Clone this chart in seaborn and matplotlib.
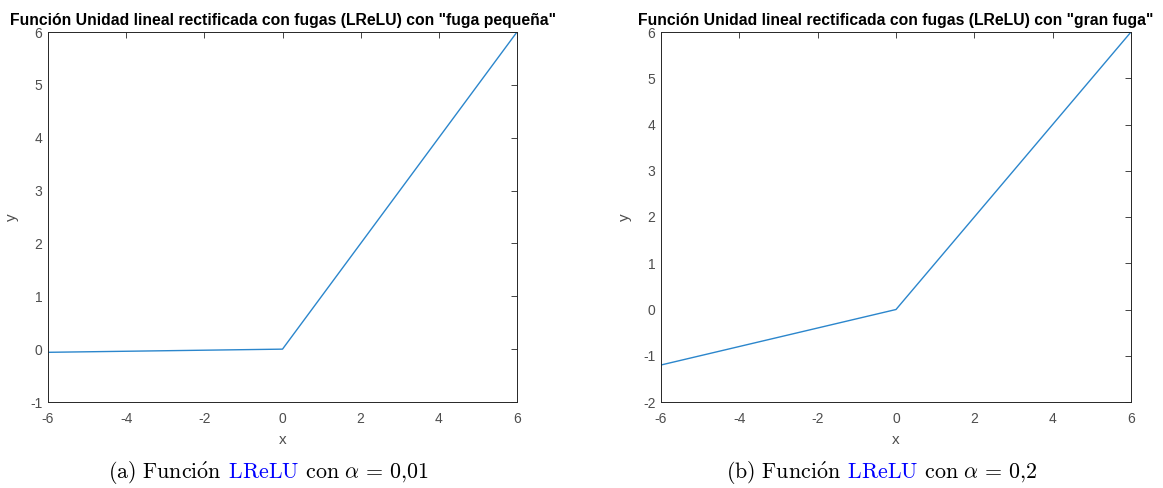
import numpy as np
import pandas as pd
import seaborn as sns
import matplotlib
matplotlib.use("Agg")
import matplotlib.pyplot as plt

# ---- data ----
x_vals = [-6, 0, 6]
y_small_leak = [-0.06, 0, 6]
y_big_leak = [-1.2, 0, 6]

titles = ['Función Unidad lineal rectificada con fugas (LReLU) con "fuga pequeña"',
          'Función Unidad lineal rectificada con fugas (LReLU) con "gran fuga"']
caption_pre = [r"$\mathrm{(a)\ Funci\'{o}n}$", r"$\mathrm{(b)\ Funci\'{o}n}$"]
caption_mid = r"$\mathrm{\ LReLU}$"
caption_post = [r"$\mathrm{\ con\ }\alpha\,=\,0{,}01$", r"$\mathrm{\ con\ }\alpha\,=\,0{,}2$"]
xticks = [-6, -4, -2, 0, 2, 4, 6]
yticks_a = [-1, 0, 1, 2, 3, 4, 5, 6]
yticks_b = [-2, -1, 0, 1, 2, 3, 4, 5, 6]

sns.set_style("white")
plt.rcParams['font.family'] = ['Liberation Sans', 'DejaVu Sans']
plt.rcParams['mathtext.fontset'] = 'cm'

fig = plt.figure(figsize=(11.63, 4.88), dpi=100)
W, H = 1163, 488
ax_a = fig.add_axes([48 / W, 1 - 402 / H, 469 / W, 370 / H])
ax_b = fig.add_axes([661 / W, 1 - 402 / H, 470 / W, 370 / H])

line_color = "#2b86cc"
axis_color = "#262626"
label_color = "#4d4d4d"

for ax, yv, yt, title in [(ax_a, y_small_leak, yticks_a, titles[0]),
                          (ax_b, y_big_leak, yticks_b, titles[1])]:
    df = pd.DataFrame({"x": x_vals, "y": yv})
    sns.lineplot(data=df, x="x", y="y", ax=ax, color=line_color, linewidth=1.0)
    ax.set_xlim(-6, 6)
    ax.set_ylim(yt[0], yt[-1])
    ax.set_xticks(xticks)
    ax.set_yticks(yt)
    ax.set_xticklabels([str(v) for v in xticks])
    ax.set_yticklabels([str(v) for v in yt])
    ax.tick_params(direction="in", length=4, width=0.6, top=True, right=True,
                   labelsize=10, color=axis_color, labelcolor=label_color)
    ax.tick_params(axis="x", pad=7)
    ax.tick_params(axis="y", pad=4)
    for s in ax.spines.values():
        s.set_visible(True)
        s.set_color(axis_color)
        s.set_linewidth(0.7)
    ax.set_xlabel("x", fontsize=11, color=label_color, labelpad=5)
    ax.set_ylabel("y", fontsize=11, color=label_color, labelpad=8)
    ax.set_title(title, fontsize=11.3, fontweight="bold", color="black", pad=5)

# captions: three pieces placed one after another
fig.canvas.draw()
renderer = fig.canvas.get_renderer()
cap_fs = 15.8
for i, xc in enumerate([269, 882]):
    pieces = [(caption_pre[i], "black"), (caption_mid, "#0000FF"), (caption_post[i], "black")]
    texts = [fig.text(0, 0, txt, fontsize=cap_fs, color=col, ha="left", va="baseline")
             for txt, col in pieces]
    fig.canvas.draw()
    widths = [t.get_window_extent(renderer).width for t in texts]
    total = sum(widths)
    x0 = xc - total / 2
    yb = H - 478
    for t, w in zip(texts, widths):
        t.set_position((x0 / W, yb / H))
        x0 += w

fig.savefig("out.png", dpi=100)
